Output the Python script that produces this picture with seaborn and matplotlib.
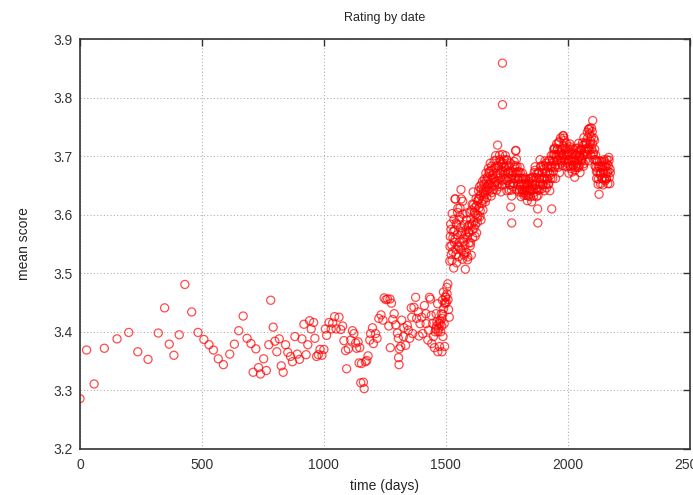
import numpy as np
import pandas as pd
import matplotlib
matplotlib.use("Agg")
import matplotlib.pyplot as plt
import seaborn as sns

# sparse early period (days, mean score)
early_days = [0, 27, 58, 100, 152, 200, 237, 279, 321, 347, 366, 385, 407, 430, 458,
              484, 508, 529, 547, 567, 588, 614, 633, 651, 669, 685, 701, 710, 721, 732,
              740, 753, 764, 774, 782, 792, 799, 807, 817, 825, 833, 843, 852, 863, 871,
              881, 891, 900, 910, 918, 927, 934, 941, 948, 958, 963, 970, 977, 984, 992,
              1000, 1006, 1011, 1021, 1030, 1036, 1044, 1050, 1062, 1069, 1077, 1082, 1089,
              1093, 1100, 1110, 1117, 1123, 1130, 1134, 1140, 1144, 1147, 1151]
early_score = [3.286, 3.369, 3.311, 3.372, 3.388, 3.399, 3.366, 3.353, 3.398, 3.441, 3.379,
               3.360, 3.395, 3.481, 3.434, 3.399, 3.387, 3.378, 3.369, 3.354, 3.344, 3.362,
               3.379, 3.402, 3.427, 3.389, 3.380, 3.331, 3.371, 3.339, 3.328, 3.354, 3.334,
               3.378, 3.454, 3.408, 3.384, 3.366, 3.388, 3.342, 3.331, 3.378, 3.365, 3.358,
               3.349, 3.392, 3.362, 3.353, 3.388, 3.413, 3.361, 3.378, 3.419, 3.405, 3.416,
               3.389, 3.358, 3.361, 3.370, 3.360, 3.370, 3.405, 3.394, 3.416, 3.405, 3.415,
               3.426, 3.405, 3.425, 3.404, 3.410, 3.385, 3.368, 3.337, 3.371, 3.386, 3.402,
               3.397, 3.381, 3.372, 3.383, 3.347, 3.373, 3.313]

# middle period, denser
mid_days = [1154, 1162, 1165, 1170, 1176, 1181, 1188, 1191, 1199, 1203, 1212, 1218, 1225,
            1234, 1242, 1247, 1254, 1261, 1266, 1271, 1272, 1277, 1282, 1288, 1294, 1301,
            1305, 1306, 1308, 1309, 1315, 1319, 1326, 1328, 1335, 1342, 1346, 1352, 1358,
            1360, 1364, 1369, 1376, 1380, 1387, 1390, 1394, 1401, 1405, 1412, 1418, 1419,
            1426, 1429, 1433, 1437, 1440, 1442, 1446, 1449, 1453, 1456, 1458, 1460, 1462,
            1463, 1466, 1467, 1468, 1470, 1472, 1474, 1476, 1477, 1479, 1481, 1483, 1484,
            1484, 1486, 1487, 1488, 1490, 1491, 1493, 1495, 1495, 1497, 1498, 1500, 1502,
            1504, 1505, 1508, 1509, 1511, 1514]
mid_score = [3.346, 3.314, 3.303, 3.349, 3.351, 3.359, 3.386, 3.397, 3.407, 3.380, 3.397,
             3.389, 3.423, 3.429, 3.420, 3.458, 3.455, 3.456, 3.410, 3.456, 3.373, 3.449,
             3.421, 3.431, 3.412, 3.398, 3.389, 3.356, 3.344, 3.371, 3.375, 3.420, 3.392,
             3.407, 3.377, 3.411, 3.403, 3.389, 3.441, 3.425, 3.397, 3.442, 3.459, 3.423,
             3.434, 3.393, 3.414, 3.425, 3.397, 3.445, 3.431, 3.414, 3.386, 3.403, 3.459,
             3.456, 3.428, 3.380, 3.414, 3.392, 3.373, 3.400, 3.405, 3.431, 3.410, 3.417,
             3.448, 3.366, 3.400, 3.406, 3.415, 3.375, 3.420, 3.414, 3.400, 3.431, 3.410,
             3.423, 3.366, 3.454, 3.430, 3.392, 3.468, 3.440, 3.414, 3.375, 3.450, 3.448,
             3.460, 3.459, 3.450, 3.476, 3.465, 3.482, 3.455, 3.438, 3.425]

# dense late period, every second day from day 1516
late_start = 1516
late_score = [
    3.521, 3.563, 3.584, 3.532, 3.548, 3.602, 3.537, 3.571, 3.509, 3.553,
    3.574, 3.627, 3.541, 3.586, 3.518, 3.566, 3.604, 3.547, 3.528, 3.592,
    3.553, 3.612, 3.578, 3.643, 3.539, 3.571, 3.524, 3.601, 3.559, 3.531,
    3.583, 3.548, 3.507, 3.574, 3.536, 3.603, 3.562, 3.528, 3.581, 3.552,
    3.569, 3.604, 3.547, 3.593, 3.531, 3.584, 3.618, 3.561, 3.639, 3.588,
    3.577, 3.612, 3.563, 3.601, 3.628, 3.569, 3.594, 3.623, 3.598, 3.641,
    3.612, 3.648, 3.597, 3.633, 3.591, 3.644, 3.619, 3.657, 3.608, 3.642,
    3.627, 3.661, 3.638, 3.622, 3.671, 3.647, 3.629, 3.664, 3.643, 3.679,
    3.652, 3.674, 3.641, 3.688, 3.659, 3.632, 3.683, 3.648, 3.668, 3.643,
    3.662, 3.692, 3.651, 3.681, 3.701, 3.657, 3.642, 3.684, 3.719, 3.667,
    3.683, 3.648, 3.702, 3.671, 3.691, 3.639, 3.686, 3.659, 3.703, 3.674,
    3.668, 3.694, 3.652, 3.681, 3.701, 3.659, 3.683, 3.641, 3.693, 3.672,
    3.663, 3.684, 3.642, 3.671, 3.652, 3.613, 3.662, 3.632, 3.674, 3.648,
    3.672, 3.653, 3.691, 3.662, 3.684, 3.709, 3.671, 3.643, 3.682, 3.661,
    3.652, 3.674, 3.639, 3.663, 3.681, 3.648, 3.631, 3.662, 3.643, 3.671,
    3.642, 3.661, 3.633, 3.652, 3.641, 3.663, 3.634, 3.654, 3.643, 3.624,
    3.652, 3.632, 3.661, 3.643, 3.654, 3.631, 3.662, 3.641, 3.622, 3.653,
    3.643, 3.664, 3.632, 3.672, 3.651, 3.682, 3.644, 3.663, 3.631, 3.671,
    3.610, 3.633, 3.671, 3.642, 3.662, 3.694, 3.651, 3.683, 3.644, 3.663,
    3.672, 3.651, 3.684, 3.661, 3.641, 3.692, 3.671, 3.652, 3.683, 3.662,
    3.661, 3.682, 3.652, 3.693, 3.671, 3.641, 3.684, 3.662, 3.701, 3.610,
    3.683, 3.662, 3.703, 3.712, 3.691, 3.714, 3.681, 3.662, 3.702, 3.721,
    3.693, 3.712, 3.681, 3.723, 3.702, 3.672, 3.711, 3.731, 3.692, 3.703,
    3.712, 3.684, 3.735, 3.702, 3.731, 3.692, 3.714, 3.683, 3.703, 3.722,
    3.701, 3.682, 3.713, 3.692, 3.671, 3.704, 3.721, 3.683, 3.694, 3.712,
    3.692, 3.673, 3.703, 3.684, 3.712, 3.691, 3.664, 3.702, 3.681, 3.713,
    3.703, 3.681, 3.714, 3.692, 3.722, 3.684, 3.701, 3.672, 3.712, 3.693,
    3.711, 3.692, 3.723, 3.701, 3.683, 3.732, 3.703, 3.721, 3.692, 3.713,
    3.722, 3.703, 3.741, 3.712, 3.692, 3.746, 3.711, 3.748, 3.721, 3.702,
    3.733, 3.712, 3.742, 3.761, 3.703, 3.731, 3.694, 3.712, 3.683, 3.702,
    3.681, 3.662, 3.692, 3.673, 3.652, 3.683, 3.635, 3.692, 3.671, 3.653,
    3.672, 3.691, 3.662, 3.683, 3.651, 3.673, 3.694, 3.661, 3.682, 3.671,
    3.683, 3.662, 3.694, 3.671, 3.653, 3.684, 3.698, 3.664, 3.653, 3.672,
]

# second pass through the late period, every fourth day from day 1517
late_b_start = 1517
late_b_score = [
    3.546, 3.575, 3.522, 3.561, 3.592, 3.558, 3.532, 3.583, 3.611, 3.545,
    3.596, 3.541, 3.568, 3.623, 3.554, 3.534, 3.566, 3.591, 3.523, 3.571,
    3.583, 3.552, 3.608, 3.574, 3.617, 3.604, 3.583, 3.615, 3.587, 3.626,
    3.628, 3.607, 3.651, 3.624, 3.637, 3.652, 3.634, 3.658, 3.641, 3.662,
    3.671, 3.654, 3.676, 3.638, 3.661, 3.677, 3.655, 3.693, 3.671, 3.652,
    3.662, 3.694, 3.676, 3.651, 3.688, 3.683, 3.661, 3.675, 3.694, 3.658,
    3.673, 3.651, 3.688, 3.642, 3.667, 3.654, 3.681, 3.662, 3.695, 3.673,
    3.661, 3.643, 3.672, 3.653, 3.638, 3.652, 3.638, 3.661, 3.647, 3.633,
    3.639, 3.657, 3.642, 3.663, 3.648, 3.658, 3.638, 3.676, 3.651, 3.644,
    3.642, 3.673, 3.655, 3.683, 3.661, 3.652, 3.678, 3.662, 3.688, 3.646,
    3.673, 3.653, 3.692, 3.668, 3.681, 3.693, 3.674, 3.703, 3.685, 3.698,
    3.712, 3.694, 3.725, 3.706, 3.688, 3.696, 3.718, 3.727, 3.694, 3.711,
    3.688, 3.707, 3.694, 3.716, 3.679, 3.706, 3.685, 3.697, 3.676, 3.694,
    3.687, 3.706, 3.681, 3.698, 3.709, 3.696, 3.718, 3.687, 3.708, 3.724,
    3.708, 3.731, 3.715, 3.738, 3.726, 3.748, 3.721, 3.706, 3.727, 3.694,
    3.674, 3.691, 3.661, 3.682, 3.668, 3.684, 3.662, 3.677, 3.691, 3.658,
    3.661, 3.687, 3.674, 3.693, 3.678,
]

# isolated points standing apart from the late band
extra_days = [1732, 1732, 1770, 1877, 1563, 1538, 1945, 1982, 2085, 1787]
extra_score = [3.859, 3.788, 3.586, 3.586, 3.627, 3.627, 3.712, 3.735, 3.746, 3.710]

late_days = late_start + 2 * np.arange(len(late_score))
late_b_days = late_b_start + 4 * np.arange(len(late_b_score))

df = pd.DataFrame({
    "day": np.concatenate([early_days, mid_days, late_days, late_b_days, extra_days]),
    "score": np.concatenate([early_score, mid_score, late_score, late_b_score, extra_score]),
})

sns.set_theme(style="white")
plt.rcParams["font.family"] = ["Liberation Sans", "DejaVu Sans"]

fig = plt.figure(figsize=(6.93, 4.95), dpi=100)
ax = fig.add_axes([0.1154, 0.093, 0.8800, 0.828])

sns.scatterplot(data=df, x="day", y="score", ax=ax, marker="o", s=34,
                facecolor="none", edgecolor=(1.0, 0.0, 0.0, 0.7), linewidth=0.9)

ax.set_xlim(0, 2500)
ax.set_ylim(3.2, 3.9)
ax.set_xticks([0, 500, 1000, 1500, 2000, 2500])
ax.set_yticks([3.2, 3.3, 3.4, 3.5, 3.6, 3.7, 3.8, 3.9])
ax.set_yticklabels(["3.2", "3.3", "3.4", "3.5", "3.6", "3.7", "3.8", "3.9"])
ax.grid(True, linestyle=(0, (1, 2)), color="#b0b0b0", linewidth=0.8)
ax.tick_params(direction="in", length=5, width=1, top=True, right=True,
               labelsize=10, colors="#333333")
ax.tick_params(axis="x", pad=6.5)
ax.tick_params(axis="y", pad=5)
for sp in ax.spines.values():
    sp.set_color("#333333")
    sp.set_linewidth(1.2)

ax.set_title("Rating by date", fontsize=9, pad=13)
ax.set_xlabel("time (days)", fontsize=10, labelpad=5)
ax.set_ylabel("mean score", fontsize=10, labelpad=16)

fig.savefig("out.png", dpi=100)
